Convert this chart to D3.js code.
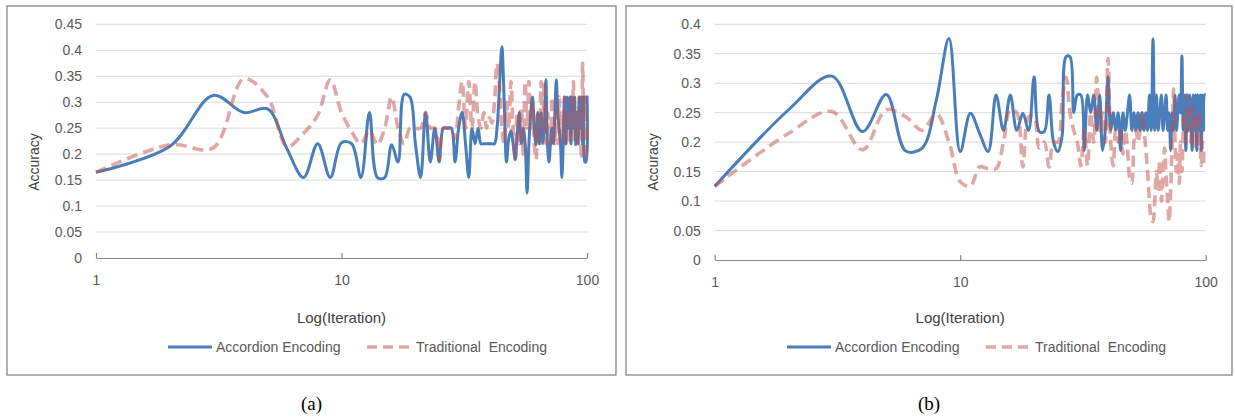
<!DOCTYPE html>
<html><head><meta charset="utf-8">
<script src="https://cdn.jsdelivr.net/npm/d3@7"></script>
<style>body{margin:0;background:#fff;} svg{display:block;} text{font-family:"Liberation Sans",Arial,sans-serif;}</style>
</head><body>
<script>
const iterations = d3.range(1, 101);
const xTicks = [1, 10, 100];
const yTicksA = [0, 0.05, 0.1, 0.15, 0.2, 0.25, 0.3, 0.35, 0.4, 0.45];
const yTicksB = [0, 0.05, 0.1, 0.15, 0.2, 0.25, 0.3, 0.35, 0.4];
const seriesNames = ["Accordion Encoding", "Traditional  Encoding"];

const accordionA = [
0.165,0.215,0.313,0.28,0.287,0.21,0.155,0.22,0.155,0.222,
0.22,0.155,0.28,0.155,0.155,0.218,0.185,0.315,0.31,0.22,
0.155,0.28,0.185,0.25,0.185,0.25,0.25,0.25,0.185,0.25,
0.28,0.22,0.155,0.25,0.22,0.25,0.22,0.22,0.22,0.22,
0.22,0.22,0.25,0.33,0.407,0.3,0.185,0.23,0.245,0.22,
0.19,0.24,0.28,0.22,0.25,0.22,0.125,0.22,0.28,0.31,
0.25,0.218,0.28,0.22,0.28,0.22,0.25,0.343,0.22,0.185,
0.22,0.25,0.22,0.28,0.343,0.28,0.25,0.22,0.155,0.22,
0.31,0.22,0.31,0.25,0.31,0.22,0.31,0.25,0.31,0.218,
0.28,0.22,0.31,0.25,0.31,0.22,0.31,0.185,0.185,0.313];

const traditionalA = [
0.165,0.218,0.212,0.345,0.31,0.215,0.24,0.275,0.343,0.28,
0.243,0.22,0.245,0.218,0.25,0.31,0.25,0.22,0.25,0.25,
0.25,0.28,0.25,0.25,0.19,0.25,0.25,0.25,0.23,0.29,
0.34,0.25,0.34,0.25,0.34,0.27,0.25,0.28,0.25,0.27,
0.26,0.3,0.375,0.33,0.25,0.22,0.3,0.25,0.34,0.25,
0.19,0.28,0.22,0.29,0.2,0.34,0.25,0.34,0.25,0.3,
0.22,0.19,0.28,0.22,0.34,0.25,0.34,0.22,0.28,0.25,
0.22,0.31,0.25,0.22,0.28,0.22,0.31,0.22,0.28,0.25,
0.31,0.22,0.28,0.25,0.22,0.31,0.25,0.34,0.22,0.28,
0.25,0.22,0.31,0.25,0.19,0.375,0.25,0.31,0.19,0.25];

const accordionB = [
0.125,0.255,0.312,0.218,0.281,0.185,0.19,0.272,0.376,0.184,
0.249,0.215,0.184,0.28,0.22,0.28,0.22,0.249,0.22,0.311,
0.218,0.218,0.28,0.2,0.184,0.21,0.345,0.345,0.25,0.28,
0.28,0.186,0.28,0.25,0.28,0.22,0.28,0.186,0.22,0.311,
0.22,0.25,0.22,0.25,0.186,0.25,0.22,0.25,0.28,0.22,
0.25,0.22,0.25,0.22,0.25,0.22,0.25,0.22,0.28,0.22,
0.375,0.22,0.28,0.22,0.25,0.28,0.22,0.25,0.28,0.22,
0.25,0.186,0.25,0.22,0.28,0.22,0.25,0.28,0.25,0.346,
0.22,0.28,0.186,0.28,0.22,0.28,0.25,0.186,0.28,0.22,
0.28,0.186,0.28,0.22,0.28,0.186,0.28,0.22,0.28,0.28];

const traditionalB = [
0.125,0.215,0.252,0.187,0.255,0.243,0.22,0.248,0.2,0.133,
0.125,0.158,0.155,0.155,0.2,0.255,0.25,0.158,0.243,0.243,
0.19,0.2,0.158,0.2,0.2,0.27,0.31,0.25,0.22,0.2,
0.16,0.22,0.16,0.25,0.2,0.31,0.22,0.25,0.2,0.342,
0.2,0.16,0.22,0.2,0.22,0.18,0.22,0.19,0.14,0.13,
0.2,0.22,0.2,0.22,0.25,0.22,0.19,0.15,0.1,0.07,
0.065,0.1,0.15,0.12,0.17,0.1,0.14,0.19,0.14,0.1,
0.065,0.12,0.2,0.29,0.2,0.15,0.18,0.13,0.2,0.15,
0.22,0.25,0.2,0.28,0.22,0.25,0.2,0.26,0.22,0.19,
0.25,0.22,0.19,0.25,0.2,0.16,0.2,0.16,0.19,0.19];

const svg = d3.select("body").append("svg").attr("width", 1235).attr("height", 418);

const panels = [
  {fx: 7, fy: 6, fw: 609, fh: 369, xr: [96, 587], yr: [258, 24.3], ymax: 0.45, yticks: yTicksA,
   acc: accordionA, trad: traditionalA, caption: "(a)", accY: 162, accX: 34},
  {fx: 626, fy: 6, fw: 606, fh: 369, xr: [714.7, 1205.7], yr: [260, 24.3], ymax: 0.4, yticks: yTicksB,
   acc: accordionB, trad: traditionalB, caption: "(b)", accY: 162, accX: 653}
];

const blue = "#4A7EBB";
const red = "#C0504D";

panels.forEach(p => {
  const g = svg.append("g");
  g.append("rect").attr("x", p.fx).attr("y", p.fy).attr("width", p.fw).attr("height", p.fh)
    .attr("fill", "#fff").attr("stroke", "#868686").attr("stroke-width", 1.3);

  const x = d3.scaleLog().domain([1, 100]).range(p.xr);
  const y = d3.scaleLinear().domain([0, p.ymax]).range(p.yr);

  g.append("g").selectAll("line").data(p.yticks.filter(t => t > 0)).join("line")
    .attr("x1", p.xr[0]).attr("x2", p.xr[1])
    .attr("y1", d => y(d)).attr("y2", d => y(d))
    .attr("stroke", "#D9D9D9").attr("stroke-width", 1);

  const ya = g.append("g").attr("transform", `translate(${p.xr[0]},0)`)
    .call(d3.axisLeft(y).tickValues(p.yticks).tickFormat(d => String(d)).tickSize(0).tickPadding(14));
  ya.select(".domain").remove();
  ya.selectAll("text").attr("font-size", 14).attr("fill", "#595959")
    .style("font-family", "'Liberation Sans', Arial, sans-serif");

  const xa = g.append("g").attr("transform", `translate(0,${y(0)})`)
    .call(d3.axisBottom(x).tickValues(xTicks).tickFormat(d => String(d)).tickSizeInner(-5).tickSizeOuter(0).tickPadding(17));
  xa.select(".domain").attr("stroke", "#868686").attr("stroke-width", 1.2);
  xa.selectAll(".tick line").attr("stroke", "#868686").attr("stroke-width", 1.2);
  xa.selectAll("text").attr("font-size", 14).attr("fill", "#595959")
    .style("font-family", "'Liberation Sans', Arial, sans-serif");

  const line = d3.line()
    .x((d, i) => x(iterations[i]))
    .y(d => y(d))
    .curve(d3.curveCatmullRom.alpha(0.5));

  g.append("path").datum(p.acc).attr("d", line)
    .attr("fill", "none").attr("stroke", blue).attr("stroke-width", 3)
    .attr("stroke-linejoin", "round");
  g.append("path").datum(p.trad).attr("d", line)
    .attr("fill", "none").attr("stroke", red).attr("stroke-opacity", 0.5).attr("stroke-width", 3.6)
    .attr("stroke-dasharray", "11,6");

  g.append("text").attr("transform", `translate(${p.accX},${p.accY}) rotate(-90)`)
    .attr("text-anchor", "middle").attr("dy", "0.35em")
    .attr("font-size", 14).attr("fill", "#404040").text("Accuracy");
  g.append("text").attr("x", (p.xr[0] + p.xr[1]) / 2).attr("y", 318).attr("dy", "0.35em")
    .attr("text-anchor", "middle").attr("font-size", 15).attr("fill", "#404040").text("Log(Iteration)");

  const ly = 347;
  g.append("line").attr("x1", p.fx + 161).attr("x2", p.fx + 205).attr("y1", ly).attr("y2", ly)
    .attr("stroke", blue).attr("stroke-width", 3);
  g.append("text").attr("x", p.fx + 209).attr("y", ly).attr("dy", "0.35em")
    .attr("font-size", 14).attr("fill", "#595959").text(seriesNames[0]);
  g.append("line").attr("x1", p.fx + 360).attr("x2", p.fx + 404).attr("y1", ly).attr("y2", ly)
    .attr("stroke", red).attr("stroke-opacity", 0.5).attr("stroke-width", 3.6).attr("stroke-dasharray", "10,6");
  g.append("text").attr("x", p.fx + 409).attr("y", ly).attr("dy", "0.35em")
    .attr("font-size", 14).attr("fill", "#595959").style("white-space", "pre").text(seriesNames[1]);

  svg.append("text").attr("x", p.fx + p.fw / 2).attr("y", 403).attr("dy", "0.35em")
    .attr("text-anchor", "middle").attr("font-size", 19).attr("fill", "#000")
    .style("font-family", "'Liberation Serif', 'Times New Roman', serif").text(p.caption);
});
</script>
</body></html>
